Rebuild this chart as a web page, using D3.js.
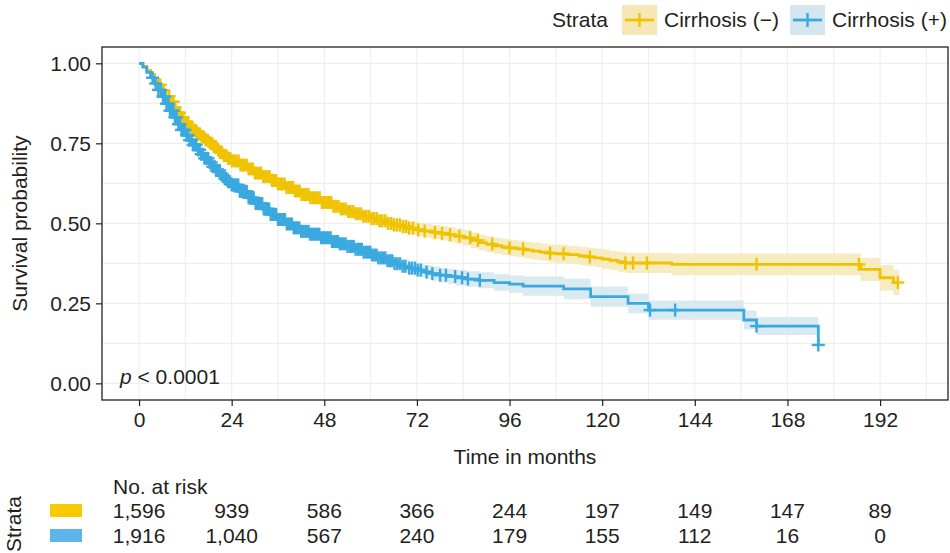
<!DOCTYPE html>
<html>
<head>
<meta charset="utf-8">
<script src="https://cdn.jsdelivr.net/npm/d3@7"></script>
<style>
  body { margin: 0; background: #fff; }
  text { font-family: "Liberation Sans", Arial, sans-serif; fill: #231f20; }
</style>
</head>
<body>
<div id="chart"></div>
<script>
// ---- data ----
var timeTicks = [0, 24, 48, 72, 96, 120, 144, 168, 192];
var survTicks = [0, 0.25, 0.5, 0.75, 1];
var strata = ["Cirrhosis (\u2212)", "Cirrhosis (+)"];
var riskNeg = [1596, 939, 586, 366, 244, 197, 149, 147, 89];
var riskPos = [1916, 1040, 567, 240, 179, 155, 112, 16, 0];

// Cirrhosis (-)
var negTime = [0,1,2,3,4,5,6,7,8,9,10,11,12,13,14,15,16,17,18,19,20,21,22,23,24,26,28,30,32,34,36,38,40,42,44,47,50,52,54,56,58,60,62,64,66,68,70,72,74,76,78,80,82,84,86,88,90,92,94,96,98,100,102,104,106,108,111,114,116,118,120,122,124,126,138,187,192,195.5,197];
var negSurv = [1,0.99,0.978,0.965,0.95,0.933,0.915,0.897,0.88,0.862,0.845,0.83,0.815,0.802,0.79,0.78,0.77,0.76,0.75,0.74,0.73,0.721,0.712,0.703,0.695,0.682,0.67,0.657,0.646,0.634,0.623,0.612,0.601,0.59,0.58,0.565,0.553,0.545,0.537,0.53,0.522,0.515,0.508,0.5,0.495,0.49,0.485,0.48,0.476,0.472,0.469,0.465,0.46,0.455,0.447,0.44,0.435,0.43,0.426,0.423,0.42,0.416,0.413,0.41,0.407,0.405,0.402,0.398,0.395,0.392,0.388,0.384,0.38,0.376,0.372,0.356,0.33,0.315,0.315];
var negCI = [0,0.004,0.005,0.006,0.007,0.007,0.008,0.008,0.009,0.009,0.01,0.01,0.011,0.011,0.011,0.012,0.012,0.012,0.013,0.013,0.013,0.013,0.014,0.014,0.014,0.014,0.015,0.015,0.015,0.016,0.016,0.016,0.017,0.017,0.017,0.018,0.018,0.018,0.019,0.019,0.019,0.02,0.02,0.02,0.021,0.021,0.021,0.022,0.022,0.022,0.023,0.023,0.023,0.024,0.024,0.024,0.025,0.025,0.025,0.026,0.026,0.026,0.027,0.027,0.027,0.028,0.028,0.028,0.029,0.029,0.03,0.03,0.031,0.031,0.034,0.036,0.04,0.04,0.04];
var negCensor = [5.5,6.4,7,7.8,8.3,8.9,9.4,10,10.5,11,11.5,12.1,12.6,13.1,13.6,14.2,14.7,15.2,15.7,16.3,16.8,17.3,17.8,18.4,18.9,19.4,19.9,20.5,21,21.5,22,22.6,23.1,23.6,24.1,24.7,25.2,25.8,26.3,26.8,27.3,27.9,28.4,29,29.5,30,30.5,31.1,31.6,32.2,32.7,33.3,33.8,34.4,34.9,35.5,36,36.6,37.1,37.7,38.2,38.8,39.3,39.9,40.4,41,41.6,42.1,42.7,43.3,43.9,44.4,45,45.6,46.2,46.8,47.4,48,48.6,49.2,49.8,50.4,51,51.7,52.3,52.9,53.5,54.2,54.8,55.5,56.1,56.8,57.4,58.1,58.8,59.5,60.2,60.9,61.6,62.3,63,63.8,64.5,65.3,66,66.8,67.6,68.4,69.2,70,71,72.3,74,76.7,78.5,80.6,83,85.8,87.8,91.5,96,99.5,106.5,110,116.8,126,128,131.6,160,186.5,196.6];

// Cirrhosis (+)
var posTime = [0,1,2,3,4,5,6,7,8,9,10,11,12,13,14,15,16,17,18,19,20,21,22,23,24,26,28,30,32,34,36,38,40,42,44,47,50,52,54,56,58,60,62,64,66,68,70,72,74,76,78,80,82,85,88,92,96,99.5,110,117,126.7,132,156.7,160,176];
var posSurv = [1,0.988,0.972,0.955,0.937,0.917,0.896,0.874,0.852,0.831,0.81,0.792,0.775,0.76,0.745,0.73,0.716,0.703,0.69,0.677,0.665,0.652,0.64,0.63,0.62,0.6,0.58,0.562,0.545,0.528,0.512,0.498,0.486,0.475,0.466,0.455,0.443,0.436,0.428,0.419,0.41,0.401,0.392,0.383,0.374,0.366,0.36,0.354,0.348,0.343,0.338,0.334,0.33,0.326,0.322,0.315,0.31,0.304,0.295,0.271,0.25,0.229,0.198,0.179,0.12];
var posCI = [0,0.004,0.005,0.006,0.006,0.007,0.007,0.008,0.008,0.009,0.009,0.01,0.01,0.01,0.011,0.011,0.011,0.012,0.012,0.012,0.013,0.013,0.013,0.013,0.014,0.014,0.014,0.015,0.015,0.015,0.016,0.016,0.016,0.017,0.017,0.017,0.018,0.018,0.018,0.019,0.019,0.019,0.02,0.02,0.02,0.021,0.021,0.022,0.022,0.022,0.023,0.023,0.024,0.024,0.025,0.026,0.027,0.03,0.032,0.032,0.031,0.03,0.03,0.028,0.028];
var posCensor = [3.5,4.3,5,5.6,6.2,6.7,7.1,7.6,8,8.5,8.9,9.3,9.7,10.2,10.6,11,11.4,11.9,12.3,12.7,13.1,13.6,14,14.4,14.8,15.3,15.7,16.1,16.5,17,17.4,17.9,18.3,18.7,19.1,19.6,20,20.5,20.9,21.3,21.7,22.2,22.6,23.1,23.5,24,24.4,24.9,25.3,25.7,26.1,26.6,27,27.5,27.9,28.4,28.8,29.3,29.7,30.2,30.6,31,31.4,31.9,32.3,32.8,33.2,33.7,34.1,34.6,35,35.5,36,36.5,36.9,37.4,37.8,38.3,38.7,39.2,39.6,40.1,40.6,41,41.5,42,42.4,42.9,43.4,43.9,44.3,44.8,45.3,45.8,46.2,46.7,47.2,47.7,48.1,48.6,49.1,49.6,50,50.5,51,51.5,52,52.5,53,53.5,54,54.6,55.1,55.6,56.1,56.7,57.2,57.7,58.2,58.8,59.3,59.9,60.4,61,61.5,62,62.6,63.2,63.8,64.4,65,65.6,66.2,66.9,67.6,68.3,69,70,70.7,71.5,72.2,73,74.5,76,78,79.5,81.9,83.7,85.2,88.3,132.4,138.9,160,176];

var colNeg = "#F0C300", colPos = "#3AA9E0";
var bandNeg = "#F6E8B6", bandPos = "#D4E6EF";
var keyNeg = "#F7CB00", keyPos = "#5DB6E9";
var fs = "21px";

var W = 950, H = 553;
var panel = {left: 102, right: 948, top: 47, bottom: 400};

var svg = d3.select("#chart").append("svg")
    .attr("width", W).attr("height", H);

var x = d3.scaleLinear().domain([-9.6, 209.6]).range([panel.left, panel.right]);
var y = d3.scaleLinear().domain([-0.052, 1.051]).range([panel.bottom, panel.top]);

// grid
var grid = svg.append("g");
var xMinor = [12, 36, 60, 84, 108, 132, 156, 180, 204];
var yMinor = [0.125, 0.375, 0.625, 0.875];
grid.selectAll(".gx").data(timeTicks.concat(xMinor)).enter().append("line")
    .attr("x1", d => x(d)).attr("x2", d => x(d))
    .attr("y1", panel.top).attr("y2", panel.bottom)
    .attr("stroke", "#EFEFEF").attr("stroke-width", 1.2);
grid.selectAll(".gy").data(survTicks.concat(yMinor)).enter().append("line")
    .attr("y1", d => y(d)).attr("y2", d => y(d))
    .attr("x1", panel.left).attr("x2", panel.right)
    .attr("stroke", "#EFEFEF").attr("stroke-width", 1.2);

function makeSeries(t, s, ci) {
    return t.map(function(d, i) { return {t: d, s: s[i], lo: s[i] - ci[i], hi: s[i] + ci[i]}; });
}
var negData = makeSeries(negTime, negSurv, negCI);
var posData = makeSeries(posTime, posSurv, posCI);

function survAt(times, surv, t) {
    var i = d3.bisectRight(times, t) - 1;
    return surv[Math.max(0, i)];
}

var area = d3.area().curve(d3.curveStepAfter)
    .x(d => x(d.t)).y0(d => y(d.lo)).y1(d => y(d.hi));
var line = d3.line().curve(d3.curveStepAfter)
    .x(d => x(d.t)).y(d => y(d.s));

var plot = svg.append("g");
plot.append("path").datum(negData).attr("d", area).attr("fill", bandNeg).attr("opacity", 0.85);
plot.append("path").datum(posData).attr("d", area).attr("fill", bandPos).attr("opacity", 0.85);

plot.append("path").datum(negData).attr("d", line)
    .attr("fill", "none").attr("stroke", colNeg).attr("stroke-width", 2.8);
plot.append("path").datum(posData).attr("d", line)
    .attr("fill", "none").attr("stroke", colPos).attr("stroke-width", 2.8);

function drawCensor(times, st, sv, color) {
    var g = plot.append("g").attr("stroke", color).attr("stroke-width", 2.4);
    times.forEach(function(t) {
        var cx = x(t), cy = y(survAt(st, sv, t));
        g.append("line").attr("x1", cx - 6.5).attr("x2", cx + 6.5).attr("y1", cy).attr("y2", cy);
        g.append("line").attr("x1", cx).attr("x2", cx).attr("y1", cy - 6.5).attr("y2", cy + 6.5);
    });
}
drawCensor(negCensor, negTime, negSurv, colNeg);
drawCensor(posCensor, posTime, posSurv, colPos);

// panel border
svg.append("rect")
    .attr("x", panel.left).attr("y", panel.top)
    .attr("width", panel.right - panel.left).attr("height", panel.bottom - panel.top)
    .attr("fill", "none").attr("stroke", "#231f20").attr("stroke-width", 1.3);

// axes
var xAxis = svg.append("g")
    .attr("transform", "translate(0," + panel.bottom + ")")
    .call(d3.axisBottom(x).tickValues(timeTicks).tickSize(6).tickPadding(6));
var yAxis = svg.append("g")
    .attr("transform", "translate(" + panel.left + ",0)")
    .call(d3.axisLeft(y).tickValues(survTicks).tickFormat(d3.format(".2f")).tickSize(6).tickPadding(5));
[xAxis, yAxis].forEach(function(a) {
    a.select(".domain").remove();
    a.selectAll(".tick line").attr("stroke", "#231f20").attr("stroke-width", 1.2);
    a.selectAll(".tick text").style("font-size", fs).attr("fill", "#231f20")
        .style("font-family", "'Liberation Sans', Arial, sans-serif");
});

svg.append("text").attr("x", (panel.left + panel.right) / 2).attr("y", 464)
    .attr("text-anchor", "middle").style("font-size", fs).text("Time in months");
svg.append("text").attr("transform", "translate(27," + (panel.top + panel.bottom) / 2 + ") rotate(-90)")
    .attr("text-anchor", "middle").style("font-size", fs).text("Survival probability");

var pt = svg.append("text").attr("x", 120).attr("y", 384).style("font-size", fs);
pt.append("tspan").style("font-style", "italic").text("p");
pt.append("tspan").text(" < 0.0001");

// legend
var leg = svg.append("g");
leg.append("text").attr("x", 552).attr("y", 27).style("font-size", fs).text("Strata");
var legItems = [
    {label: strata[0], kx: 622, tx: 664, band: bandNeg, col: colNeg},
    {label: strata[1], kx: 790, tx: 832, band: bandPos, col: colPos}
];
legItems.forEach(function(d) {
    leg.append("rect").attr("x", d.kx).attr("y", 5).attr("width", 35).attr("height", 30).attr("fill", d.band);
    leg.append("line").attr("x1", d.kx + 3).attr("x2", d.kx + 32).attr("y1", 20).attr("y2", 20)
        .attr("stroke", d.col).attr("stroke-width", 2.8);
    leg.append("line").attr("x1", d.kx + 17.5).attr("x2", d.kx + 17.5).attr("y1", 13).attr("y2", 27)
        .attr("stroke", d.col).attr("stroke-width", 2.4);
    leg.append("text").attr("x", d.tx).attr("y", 27).style("font-size", fs).text(d.label);
});

// number at risk table
var fmt = d3.format(",");
svg.append("text").attr("x", 113).attr("y", 494).style("font-size", fs).text("No. at risk");
svg.append("text").attr("transform", "translate(21,524) rotate(-90)")
    .attr("text-anchor", "middle").style("font-size", fs).text("Strata");
svg.append("rect").attr("x", 50).attr("y", 504).attr("width", 32).attr("height", 13).attr("fill", keyNeg);
svg.append("rect").attr("x", 50).attr("y", 529).attr("width", 32).attr("height", 13).attr("fill", keyPos);
svg.selectAll(".rneg").data(riskNeg).enter().append("text")
    .attr("x", (d, i) => x(timeTicks[i])).attr("y", 518)
    .attr("text-anchor", "middle").style("font-size", fs).text(d => fmt(d));
svg.selectAll(".rpos").data(riskPos).enter().append("text")
    .attr("x", (d, i) => x(timeTicks[i])).attr("y", 543)
    .attr("text-anchor", "middle").style("font-size", fs).text(d => fmt(d));
</script>
</body>
</html>
